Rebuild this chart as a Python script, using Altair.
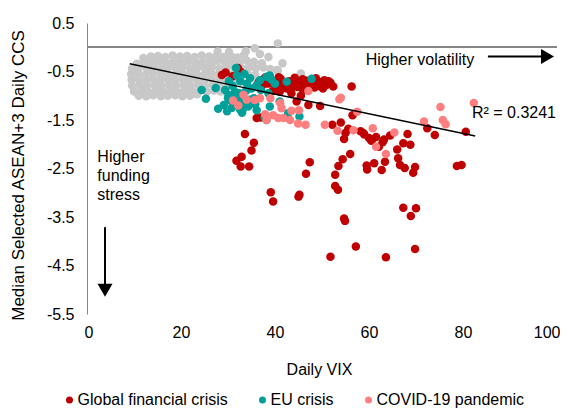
import altair as alt
import pandas as pd

# ---------------- data ----------------
grey_vix = [
    12.0, 13.6, 15.1, 16.7, 18.2, 19.8, 21.3, 22.9, 24.4, 26.0, 27.5, 29.1, 30.6, 32.0, 33.4,
    10.6, 12.2, 13.8, 15.3, 16.9, 18.4, 20.0, 21.5, 23.1, 24.6, 26.2, 27.7, 29.3, 30.8, 32.4, 33.9, 35.5, 37.2,
    9.6, 11.1, 12.7, 14.2, 15.8, 17.3, 18.9, 20.4, 22.0, 23.5, 25.1, 26.6, 28.2, 29.7, 31.3, 32.8, 34.4, 35.9, 37.5, 39.0, 40.6,
    9.4, 10.9, 12.5, 14.0, 15.6, 17.1, 18.7, 20.2, 21.8, 23.3, 24.9, 26.4, 28.0, 29.5, 31.1, 32.6, 34.2, 35.8,
    9.5, 11.0, 12.6, 14.1, 15.7, 17.2, 18.8, 20.3, 21.9, 23.4, 25.0, 26.5, 28.1, 29.6, 31.2, 32.7,
    9.6, 11.2, 12.7, 14.3, 15.8, 17.4, 18.9, 20.5, 22.0, 23.6, 25.1, 26.7, 28.2, 29.8,
    10.0, 11.5, 13.1, 14.6, 16.2, 17.7, 19.3, 20.8, 22.4, 23.9, 25.5, 27.0, 28.4,
    11.0, 12.6, 14.1, 15.7, 17.2, 18.8, 20.3, 21.9, 23.4,
    40.6, 35.7, 33.8, 38.6, 40.4, 45.5, 41.6, 36.8, 30.2, 27.8,
]
grey_ccs = [
    -0.22, -0.19, -0.18, -0.20, -0.17, -0.19, -0.18, -0.20, -0.17, -0.19, -0.18, -0.20, -0.18, -0.21, -0.16,
    -0.34, -0.30, -0.31, -0.29, -0.32, -0.30, -0.31, -0.29, -0.32, -0.30, -0.31, -0.28, -0.30, -0.29, -0.31, -0.27, -0.30, -0.33,
    -0.44, -0.42, -0.43, -0.41, -0.44, -0.42, -0.43, -0.41, -0.44, -0.42, -0.43, -0.41, -0.44, -0.42, -0.40, -0.43, -0.41, -0.44, -0.42, -0.45, -0.48,
    -0.55, -0.54, -0.56, -0.53, -0.55, -0.54, -0.56, -0.53, -0.55, -0.54, -0.56, -0.53, -0.55, -0.54, -0.56, -0.53, -0.55, -0.57,
    -0.67, -0.66, -0.68, -0.65, -0.67, -0.66, -0.68, -0.65, -0.67, -0.66, -0.68, -0.65, -0.67, -0.66, -0.68, -0.70,
    -0.79, -0.78, -0.80, -0.77, -0.79, -0.78, -0.80, -0.77, -0.79, -0.78, -0.80, -0.77, -0.79, -0.81,
    -0.91, -0.90, -0.92, -0.89, -0.91, -0.90, -0.92, -0.89, -0.91, -0.90, -0.92, -0.89, -0.91,
    -1.00, -1.01, -0.99, -1.01, -1.00, -0.99, -1.01, -1.00, -0.97,
    0.08, -0.02, -0.08, -0.20, -0.47, -0.54, -0.33, -0.14, -0.10, -0.09,
]

gfc_vix = [
    28.7, 29.5, 32.1, 32.6, 31.0, 36.5, 37.5, 38.5, 39.0, 40.0, 40.5, 41.2, 41.8, 42.5, 43.0, 43.6,
    44.2, 44.8, 45.3, 45.9, 46.4, 47.0, 47.5, 48.1, 48.7, 49.3, 49.9, 50.5, 51.0, 51.8, 52.4, 50.9,
    56.3, 39.5, 41.0, 43.5, 45.5, 44.6, 47.1, 49.6, 36.1, 37.0, 33.6, 35.5, 35.0, 32.9, 31.8, 32.7,
    34.5, 47.4, 46.6, 39.1, 39.6, 45.0, 45.2, 53.5, 52.8, 52.8, 53.4, 54.4, 56.0, 54.7, 54.9, 57.2,
    51.8, 63.6, 69.8, 67.3, 70.0, 68.9, 59.6, 59.5, 61.1, 62.7, 63.4, 66.0, 66.2, 66.6, 67.6, 69.4,
    69.8, 68.8, 67.3, 68.2, 64.5, 63.2, 62.9, 62.1, 60.6, 60.0, 58.8, 58.2, 55.6, 55.0, 54.7, 54.0,
    52.2, 56.5, 78.7, 79.7, 80.6, 74.0, 72.4, 60.5, 61.5, 59.0,
    38.0, 39.8, 41.5, 42.2, 43.3, 44.5, 46.0, 46.8, 48.4, 49.0, 50.2, 51.4, 37.2, 40.8, 45.0,
]
gfc_ccs = [
    -0.57, -0.52, -0.43, -0.50, -0.60, -0.72, -0.66, -0.75, -0.68, -0.80, -0.72, -0.65, -0.78, -0.85, -0.70, -0.76,
    -0.63, -0.82, -0.72, -0.66, -0.78, -0.85, -0.70, -0.76, -0.64, -0.80, -0.72, -0.68, -0.77, -0.73, -0.81, -0.78,
    -0.81, -0.90, -0.92, -0.95, -1.00, -1.12, -1.19, -1.21, -1.46, -1.45, -1.79, -1.97, -2.13, -2.26, -2.34, -2.46,
    -2.46, -2.37, -2.61, -2.99, -3.18, -3.08, -3.04, -2.45, -2.63, -2.86, -2.94, -2.31, -2.20, -3.53, -3.58, -4.11,
    -4.32, -4.33, -4.16, -3.31, -3.32, -3.48, -2.52, -2.44, -2.39, -2.53, -2.36, -2.11, -2.29, -2.43, -2.49, -2.59,
    -2.47, -2.01, -1.98, -1.79, -1.82, -1.90, -1.96, -2.05, -1.91, -1.87, -1.77, -1.73, -1.68, -1.77, -1.89, -1.55,
    -1.60, -1.40, -2.45, -2.43, -1.74, -1.81, -1.67, -1.93, -1.85, -1.80,
    -0.62, -0.70, -0.83, -0.74, -0.88, -0.70, -0.88, -0.69, -0.83, -0.69, -0.85, -0.70, -0.80, -0.62, -0.77,
]

eu_vix = [
    24.4, 25.3, 27.4, 27.9, 29.1, 31.7, 31.9, 32.6, 33.5, 34.7, 36.1, 38.2, 38.9, 39.3, 38.6, 42.5,
    47.8, 29.4, 30.1, 30.5, 31.5, 32.0, 32.9, 33.3, 34.3, 36.1, 38.9, 38.2, 37.8, 41.0, 42.8, 45.2,
    32.6, 31.0, 30.2, 33.8, 35.0, 34.0, 36.8, 35.5, 37.0, 30.8, 33.5, 29.8, 31.5, 40.0,
    31.2, 32.4, 34.6, 30.0, 33.0, 35.8,
]
eu_ccs = [
    -0.88, -1.06, -0.84, -1.27, -1.19, -0.43, -0.58, -0.70, -0.55, -0.64, -0.78, -0.61, -0.58, -0.67, -0.95, -0.71,
    -0.65, -0.88, -0.98, -1.10, -1.05, -1.15, -1.02, -1.26, -1.22, -1.30, -1.22, -1.50, -1.45, -1.12, -1.36, -1.43,
    -1.29, -0.80, -0.70, -0.90, -0.85, -0.75, -0.68, -1.05, -0.88, -1.25, -1.15, -1.32, -0.92, -0.75,
    -1.18, -0.95, -1.08, -1.05, -1.35, -1.18,
]

covid_vix = [
    31.1, 33.3, 34.0, 35.7, 36.8, 41.1, 37.9, 38.2, 39.6, 40.7, 41.8, 43.2, 41.4, 43.5, 45.1, 44.9,
    46.5, 47.1, 50.6, 53.3, 54.0, 53.7, 57.5, 56.7, 60.8, 61.5, 63.6, 65.4, 71.7, 75.2, 75.7, 76.3,
    82.3, 32.2, 39.0,
]
covid_ccs = [
    -1.10, -0.98, -1.08, -1.09, -1.05, -1.15, -1.38, -1.50, -1.40, -1.46, -1.46, -1.50, -1.26, -1.31, -1.30, -1.57,
    -1.60, -0.90, -1.60, -1.72, -1.04, -1.07, -1.33, -1.71, -1.67, -2.05, -2.20, -1.76, -1.53, -1.23, -1.50, -1.59,
    -1.15, -1.20, -1.05,
]

periods = ["Global financial crisis", "EU crisis", "COVID-19 pandemic"]
period_colors = ["#C00000", "#00A09A", "#FF7F80"]

trend_vix = [9.1, 82.6]
trend_ccs = [-0.34, -1.83]

x_ticks = [0, 20, 40, 60, 80, 100]
y_ticks = [0.5, -0.5, -1.5, -2.5, -3.5, -4.5, -5.5]

notes_text = ["Higher volatility", "R\u00b2 = 0.3241", "Higher", "funding", "stress"]
notes_vix = [59.3, 81.9, 2.2, 2.2, 2.2]
notes_ccs = [-0.27, -1.355, -2.26, -2.65, -3.05]

# ---------------- tables ----------------
grey_df = pd.DataFrame({"vix": grey_vix, "ccs": grey_ccs})
crisis_df = pd.concat([
    pd.DataFrame({"vix": gfc_vix, "ccs": gfc_ccs, "period": periods[0]}),
    pd.DataFrame({"vix": eu_vix, "ccs": eu_ccs, "period": periods[1]}),
    pd.DataFrame({"vix": covid_vix, "ccs": covid_ccs, "period": periods[2]}),
], ignore_index=True)
trend_df = pd.DataFrame({"vix": trend_vix, "ccs": trend_ccs})
notes_df = pd.DataFrame({"vix": notes_vix, "ccs": notes_ccs, "label": notes_text})

arrow_lines = pd.DataFrame({
    "vix": [85.3, 3.83], "vix2": [96.6, 3.83],
    "ccs": [-0.19, -3.71], "ccs2": [-0.19, -4.88],
})
arrow_heads = pd.DataFrame({
    "vix": [97.98, 3.83], "ccs": [-0.19, -5.01],
    "shape": ["triangle-right", "triangle-down"],
})

FONT = "Liberation Sans"
xs = alt.Scale(domain=[0, 100], nice=False, zero=False)
ys = alt.Scale(domain=[-5.5, 0.5], nice=False, zero=False)

x_axis = alt.Axis(values=x_ticks, domain=False, ticks=False, grid=False,
                  labelPadding=10, labelFontSize=16, labelColor="#000000",
                  labelFlush=True, labelFlushOffset=3, labelOverlap=False,
                  title="Daily VIX", titleFontSize=16, titleFontWeight="normal",
                  titleColor="#000000", titleY=55, titleX=232, titleBaseline="middle")
y_axis = alt.Axis(values=y_ticks, domain=True, domainColor="#868686", ticks=False,
                  grid=False, labelPadding=13, labelFontSize=16, labelColor="#000000",
                  labelFlush=False, labelOverlap=False,
                  labelExpr="datum.value < 0 ? '-' + format(-datum.value, '.1f') : format(datum.value, '.1f')",
                  title="Median Selected ASEAN+3 Daily CCS", titleFontSize=17,
                  titleFontWeight="normal", titleColor="#000000",
                  titleX=-69, titleY=152, titleAngle=270,
                  titleAlign="center", titleBaseline="middle")


def X(field="vix"):
    return alt.X(f"{field}:Q", scale=xs, axis=x_axis)


def Y(field="ccs"):
    return alt.Y(f"{field}:Q", scale=ys, axis=y_axis)


zero_line = alt.Chart(grey_df).mark_rule(color="#868686", strokeWidth=1.5).encode(
    y=alt.datum(0, scale=ys, axis=y_axis)
)

grey = alt.Chart(grey_df).mark_circle(size=72, opacity=1, color="#C8C8C8").encode(
    x=X(), y=Y()
)

crisis = alt.Chart(crisis_df).mark_circle(size=72, opacity=1).encode(
    x=X(), y=Y(),
    color=alt.Color("period:N",
                    scale=alt.Scale(domain=periods, range=period_colors),
                    sort=periods,
                    legend=alt.Legend(title=None, orient="none", legendX=-25.5, legendY=369,
                                      direction="horizontal", symbolType="circle",
                                      symbolSize=49, labelFontSize=16, labelFont=FONT,
                                      labelColor="#000000", labelOffset=0,
                                      columnPadding=26, padding=0, symbolStrokeWidth=0)),
    order=alt.Order("idx:Q"),
).transform_window(idx="row_number()")

trend = alt.Chart(trend_df).mark_line(color="#000000", strokeWidth=1.3).encode(
    x=X(), y=Y()
)

notes = alt.Chart(notes_df).mark_text(align="left", baseline="middle", fontSize=16,
                                      font=FONT, color="#000000").encode(
    x=X(), y=Y(), text="label:N"
)

arrows = alt.Chart(arrow_lines).mark_rule(color="#000000", strokeWidth=2).encode(
    x=X(), x2="vix2:Q", y=Y(), y2="ccs2:Q"
)

heads = alt.Chart(arrow_heads).mark_point(filled=True, size=225, opacity=1,
                                          color="#000000").encode(
    x=X(), y=Y(), shape=alt.Shape("shape:N", scale=None, legend=None)
)

chart = alt.layer(zero_line, grey, crisis, trend, notes, arrows, heads).properties(
    width=470, height=291,
    autosize=alt.AutoSizeParams(type="none"),
    padding={"left": 79, "top": 15, "right": 3, "bottom": 96},
).configure(font=FONT).configure_view(stroke=None).configure_axis(
    labelFont=FONT, titleFont=FONT
)

chart.save("out.html", embed_options={"renderer": "svg", "actions": False})
